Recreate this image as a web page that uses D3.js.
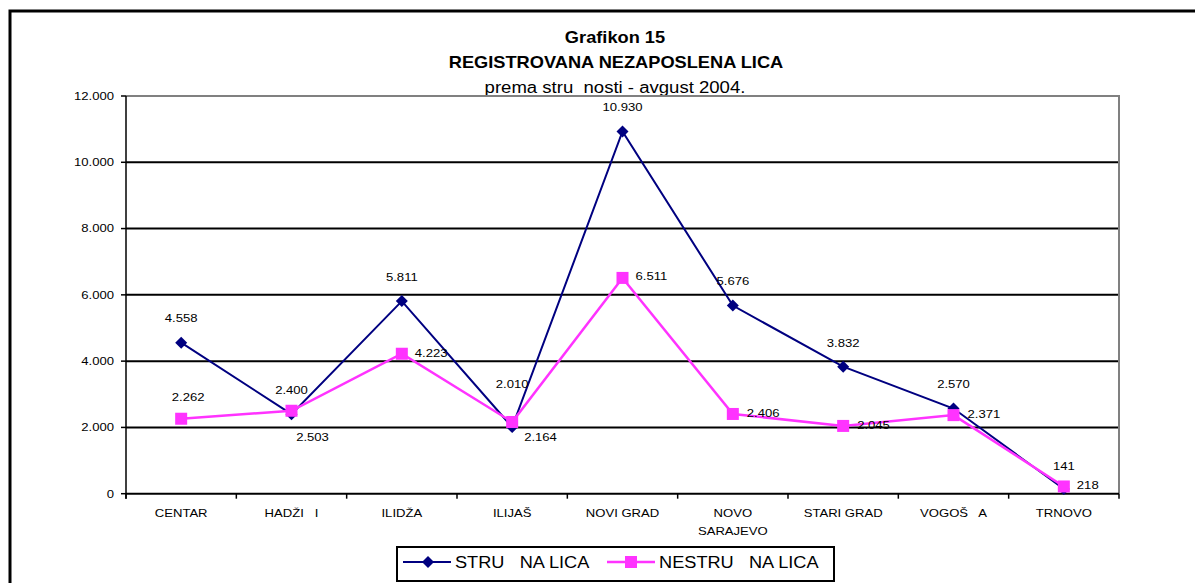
<!DOCTYPE html>
<html><head><meta charset="utf-8">
<script src="https://cdn.jsdelivr.net/npm/d3@7"></script>
<style>
html,body{margin:0;padding:0;background:#fff;}
svg text{font-family:"Liberation Sans",Arial,sans-serif;white-space:pre;}
</style></head>
<body>
<svg id="c" width="1195" height="583"></svg>
<script>
// ---- data ----
const categories = ["CENTAR","HADŽI   I","ILIDŽA","ILIJAŠ","NOVI GRAD","NOVO SARAJEVO","STARI GRAD","VOGOŠ   A","TRNOVO"];
const struValues = [4558,2400,5811,2010,10930,5676,3832,2570,141];
const nestruValues = [2262,2503,4223,2164,6511,2406,2045,2371,218];
const seriesNames = ["STRU   NA LICA","NESTRU   NA LICA"];
const yTicks = [0,2000,4000,6000,8000,10000,12000];
const titleLines = ["Grafikon 15","REGISTROVANA NEZAPOSLENA LICA","prema stru  nosti - avgust 2004."];

// ---- layout ----
const svg = d3.select("#c");
const L = 126, R = 1119, T = 96, B = 493.7;
const SX = 1.19; // horizontal stretch of the original rendering
const loc = d3.formatLocale({decimal:",",thousands:".",grouping:[3],currency:["",""]});
const fmt = loc.format(",");

const x = d3.scaleBand().domain(categories).range([L,R]);
const y = d3.scaleLinear().domain([0,12000]).range([B,T]);
const cx = c => x(c) + x.bandwidth()/2;

function txt(g, px, py, s, o){
  o = o || {};
  return g.append("text")
    .attr("transform", `translate(${px},${py}) scale(${o.sx||SX},1)`)
    .attr("text-anchor", o.anchor||"middle")
    .attr("dy", o.dy||"0.35em")
    .attr("font-size", o.size||11)
    .attr("font-weight", o.weight||"normal")
    .attr("fill", "#000")
    .text(s);
}

// outer chart border
svg.append("rect").attr("x",10).attr("y",11).attr("width",1300).attr("height",700)
  .attr("fill","none").attr("stroke","#000").attr("stroke-width",3);

// titles
txt(svg, 615, 37, titleLines[0], {size:16, weight:"bold", sx:1.14});
txt(svg, 616, 62, titleLines[1], {size:16, weight:"bold", sx:1.14});
txt(svg, 615, 87, titleLines[2], {size:16, sx:1.16});

// gridlines
const grid = svg.append("g");
yTicks.filter(v => v>0 && v<12000).forEach(v=>{
  grid.append("line").attr("x1",L).attr("x2",R).attr("y1",y(v)).attr("y2",y(v))
    .attr("stroke","#000").attr("stroke-width",2);
});
// plot area border top/right (gray)
svg.append("path").attr("d",`M${L},${y(12000)}H${R}V${B}`).attr("fill","none")
  .attr("stroke","#808080").attr("stroke-width",2);

// y axis
const ya = svg.append("g");
ya.append("line").attr("x1",L).attr("x2",L).attr("y1",T).attr("y2",B+5).attr("stroke","#000").attr("stroke-width",1.5);
yTicks.forEach(v=>{
  ya.append("line").attr("x1",L-5).attr("x2",L).attr("y1",y(v)).attr("y2",y(v)).attr("stroke","#000").attr("stroke-width",1.5);
  txt(ya, L-12, y(v), fmt(v), {anchor:"end"});
});

// x axis
const xa = svg.append("g");
xa.append("line").attr("x1",L).attr("x2",R).attr("y1",B).attr("y2",B).attr("stroke","#000").attr("stroke-width",2);
categories.concat([null]).forEach(c=>{
  const px = c===null ? R : x(c);
  xa.append("line").attr("x1",px).attr("x2",px).attr("y1",B).attr("y2",B+5).attr("stroke","#000").attr("stroke-width",1.5);
});
categories.forEach(c=>{
  const words = c === "NOVO SARAJEVO" ? ["NOVO","SARAJEVO"] : [c];
  words.forEach((w,i)=> txt(xa, cx(c), 512.7 + i*18, w));
});

// lines
const line = d3.line().x((d,i)=>cx(categories[i])).y(d=>y(d));
svg.append("path").datum(struValues).attr("d",line).attr("fill","none")
  .attr("stroke","#000080").attr("stroke-width",2);
const diamond = d3.symbol().type(d3.symbolSquare).size(72);
svg.append("g").selectAll("path").data(struValues).join("path")
  .attr("d",diamond)
  .attr("transform",(d,i)=>`translate(${cx(categories[i])},${y(d)}) rotate(45)`)
  .attr("fill","#000080");

svg.append("path").datum(nestruValues).attr("d",line).attr("fill","none")
  .attr("stroke","#FF33FF").attr("stroke-width",2.5);
svg.append("g").selectAll("rect").data(nestruValues).join("rect")
  .attr("x",(d,i)=>cx(categories[i])-6).attr("y",d=>y(d)-6)
  .attr("width",12).attr("height",12).attr("fill","#FF33FF");

// data labels (placement as in the original)
const struPlace = [[0,-24],[0,-24],[0,-24],[0,-43],[0,-24],[0,-24],[0,-24],[0,-24],[0,-23]];
const nestruPlace = [[7,-22,"middle"],[21,26,"middle"],[13,-1,"start"],[12,15,"start"],[13,-2,"start"],[14,-1,"start"],[14,-1,"start"],[14,-1,"start"],[13,-1,"start"]];
const lab = svg.append("g");
struValues.forEach((v,i)=>{
  const p = struPlace[i];
  txt(lab, cx(categories[i])+p[0], y(v)+p[1], fmt(v));
});
nestruValues.forEach((v,i)=>{
  const p = nestruPlace[i];
  txt(lab, cx(categories[i])+p[0], y(v)+p[1], fmt(v), {anchor:p[2]});
});

// legend
const lg = svg.append("g");
lg.append("rect").attr("x",397).attr("y",547).attr("width",437).attr("height",34)
  .attr("fill","#fff").attr("stroke","#000").attr("stroke-width",2);
lg.append("line").attr("x1",403).attr("x2",451).attr("y1",562).attr("y2",562).attr("stroke","#000080").attr("stroke-width",2);
lg.append("path").attr("d",diamond).attr("transform","translate(428,562) rotate(45)").attr("fill","#000080");
txt(lg, 455, 562, seriesNames[0], {anchor:"start", size:17, sx:1.07});
lg.append("line").attr("x1",607).attr("x2",655).attr("y1",562).attr("y2",562).attr("stroke","#FF33FF").attr("stroke-width",2.5);
lg.append("rect").attr("x",625).attr("y",556).attr("width",12).attr("height",12).attr("fill","#FF33FF");
txt(lg, 659, 562, seriesNames[1], {anchor:"start", size:17, sx:1.07});
</script>
</body></html>
